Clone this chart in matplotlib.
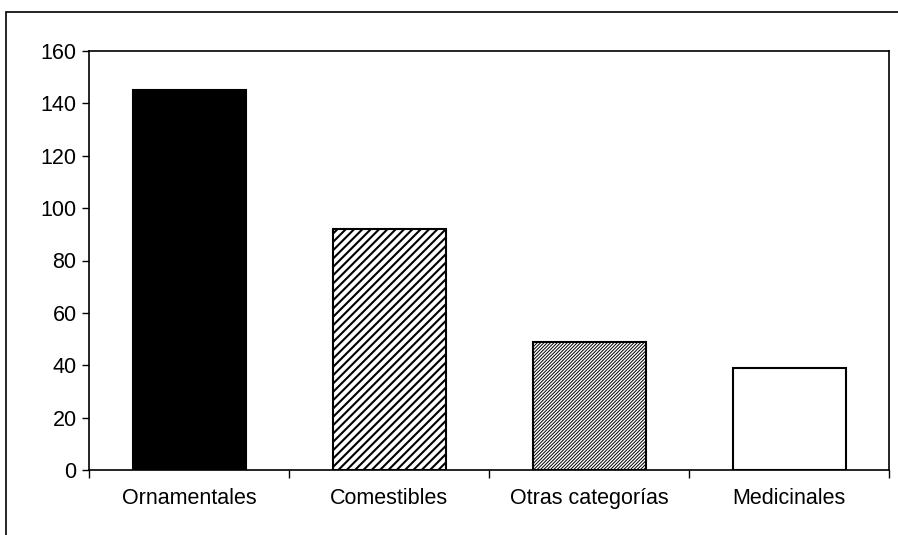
import numpy as np
import matplotlib
matplotlib.use('Agg')
from matplotlib import pyplot as plt
from matplotlib.patches import Rectangle

# categories and counts
categorias = ['Ornamentales', 'Comestibles', 'Otras categorías', 'Medicinales']
valores = [145, 92, 49, 39]
yticks = [0, 20, 40, 60, 80, 100, 120, 140, 160]

plt.rcParams['font.family'] = ['Liberation Sans', 'DejaVu Sans']
plt.rcParams['hatch.color'] = 'black'

fig = plt.figure(figsize=(8.98, 5.35), dpi=100)
ax = fig.add_axes([89/898, 1 - 470/535, 800/898, 419/535])

x = np.arange(len(categorias))
bars = ax.bar(x, valores, width=0.565, edgecolor='black', linewidth=1.5)

# fills: solid, wide hatch, fine hatch, empty
bars[0].set_facecolor('black')
bars[1].set_facecolor('white'); bars[1].set_hatch('////')
bars[2].set_facecolor('white'); bars[2].set_hatch('//////////')
bars[3].set_facecolor('white')
try:
    bars[1].set_hatch_linewidth(1.5)
    bars[2].set_hatch_linewidth(0.7)
except AttributeError:
    pass

ax.set_xlim(-0.5, len(categorias) - 0.5)
ax.set_ylim(0, 160)
ax.set_yticks(yticks)
ax.tick_params(axis='y', labelsize=15.5, length=5, width=1, pad=4, direction='out')

# tick marks between categories, labels under each bar
ax.set_xticks(np.arange(len(categorias) + 1) - 0.5)
ax.set_xticklabels([])
ax.set_xticks(x, minor=True)
ax.set_xticklabels(categorias, minor=True)
ax.tick_params(axis='x', which='major', length=6, width=1, direction='out')
ax.tick_params(axis='x', which='minor', length=0, labelsize=15.5, pad=13)

for s in ax.spines.values():
    s.set_linewidth(1.2)

# outer frame of the figure
fig.patches.append(Rectangle((6/898, -0.1), 1.2, 1 - 12/535 + 0.1,
                             transform=fig.transFigure, fill=False,
                             edgecolor='black', linewidth=1.2))

fig.savefig('out.png', dpi=100)
